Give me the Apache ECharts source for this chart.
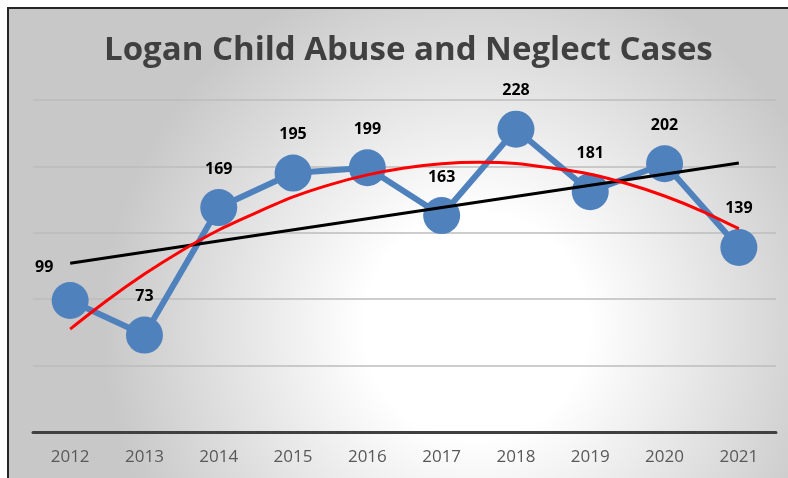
<!DOCTYPE html>
<html>
<head>
<meta charset="utf-8">
<script src="https://cdn.jsdelivr.net/npm/echarts@6/dist/echarts.min.js"></script>
<style>
  html, body { margin: 0; padding: 0; background: #fff; }
  #chart { width: 788px; height: 478px; }
</style>
</head>
<body>
<div id="chart"></div>
<script>
// data
const years = ['2012', '2013', '2014', '2015', '2016', '2017', '2018', '2019', '2020', '2021'];
const cases = [99, 73, 169, 195, 199, 163, 228, 181, 202, 139];
// Excel trendlines (x = position in years from 2012)
const linearX = [0, 9];
const linearTrend = [127, 202.6];
const polyX = [0, 0.5, 1, 1.5, 2, 2.5, 3, 3.5, 4, 4.5, 5, 5.5, 6, 6.5, 7, 7.5, 8, 8.5, 9];
const polyTrend = [77.5, 99.2, 118.9, 136.5, 152.1, 165, 177, 186.3, 193.6, 198.8,
    202, 203.1, 202.2, 198.6, 194.1, 186.9, 177.7, 166.4, 153.1];

const font = '"Open Sans", "Liberation Sans", sans-serif';

const chart = echarts.init(document.getElementById('chart'));

const option = {
    animation: false,
    backgroundColor: '#ffffff',
    graphic: [
        {
            type: 'rect',
            z: -10,
            silent: true,
            shape: { x: 8, y: 8, width: 900, height: 600 },
            style: {
                fill: {
                    type: 'radial',
                    x: 0.52,
                    y: 0.53,
                    r: 0.62,
                    colorStops: [
                        { offset: 0, color: '#ffffff' },
                        { offset: 0.3, color: '#ffffff' },
                        { offset: 1, color: '#c8c8c8' },
                    ],
                },
                stroke: '#262626',
                lineWidth: 2,
            },
        },
    ],
    title: {
        text: 'Logan Child Abuse and Neglect Cases',
        left: 99,
        top: 29,
        textStyle: {
            fontFamily: font,
            fontSize: 33,
            fontWeight: 'bold',
            color: '#404040',
        },
    },
    grid: {
        left: 33,
        right: 12,
        top: 100,
        bottom: 46,
    },
    xAxis: [
        {
            type: 'category',
            data: years,
            axisLine: { lineStyle: { color: '#404040', width: 3 } },
            axisTick: { show: false },
            axisLabel: {
                color: '#595959',
                fontFamily: font,
                fontSize: 17,
                margin: 17,
            },
        },
        {
            // hidden value axis lined up with category centres, for the trendlines
            type: 'value',
            min: -0.5,
            max: 9.5,
            show: false,
        },
    ],
    yAxis: {
        type: 'value',
        min: 0,
        max: 250,
        interval: 50,
        axisLine: { show: false },
        axisTick: { show: false },
        axisLabel: { show: false },
        splitLine: { lineStyle: { color: '#bcbcbc', width: 1.5 } },
    },
    series: [
        {
            name: 'Cases',
            type: 'line',
            data: cases.map((v, i) =>
                i === 0 ? { value: v, label: { offset: [-26, 5] } } : v,
            ),
            symbol: 'circle',
            symbolSize: 37,
            itemStyle: { color: '#4f81bd' },
            lineStyle: { color: '#4f81bd', width: 6 },
            label: {
                show: true,
                position: 'top',
                distance: 12,
                color: '#000000',
                fontFamily: font,
                fontSize: 16,
                fontWeight: 'bold',
            },
            z: 2,
        },
        {
            name: 'Linear',
            type: 'line',
            xAxisIndex: 1,
            data: linearX.map((x, i) => [x, linearTrend[i]]),
            symbol: 'none',
            lineStyle: { color: '#000000', width: 3 },
            z: 3,
        },
        {
            name: 'Poly',
            type: 'line',
            xAxisIndex: 1,
            data: polyX.map((x, i) => [x, polyTrend[i]]),
            smooth: 0.3,
            symbol: 'none',
            lineStyle: { color: '#ff0000', width: 3 },
            z: 3,
        },
    ],
};

chart.setOption(option);
</script>
</body>
</html>
